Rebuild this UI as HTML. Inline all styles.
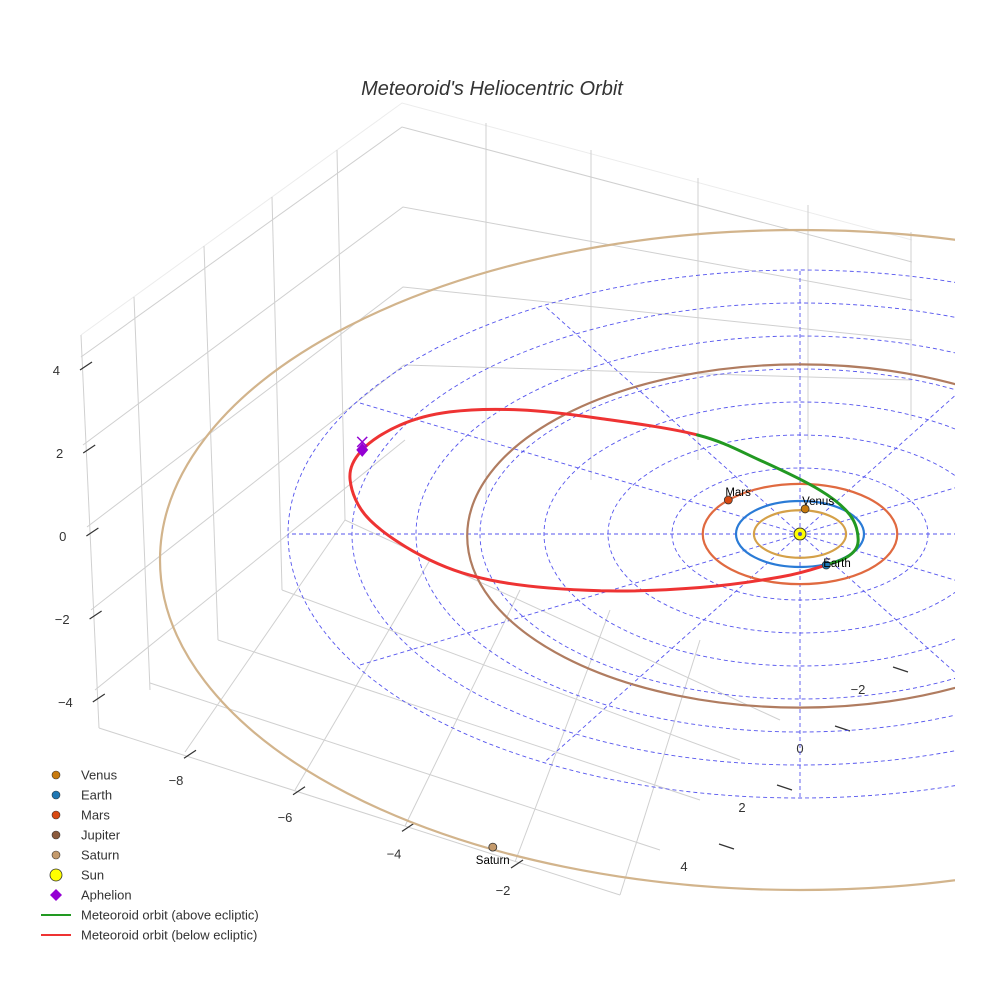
<!DOCTYPE html>
<html><head><meta charset="utf-8"><style>
body{margin:0;background:#fff;}
svg{display:block;font-family:"Liberation Sans",sans-serif;}
</style></head><body>
<svg id="chart" width="984" height="984" viewBox="0 0 984 984">
<rect width="984" height="984" fill="#fff"/>
<text x="492" y="95" text-anchor="middle" font-size="20" font-style="italic" fill="#333">Meteoroid's Heliocentric Orbit</text>
<g id="box" stroke="#d0d0d0" stroke-width="1" fill="none">
<path d="M81,335L402,103L912,240" stroke="#ececec"/>
<path d="M81,357L402,127L912,262"/>
<path d="M83,445L403,207L912,300"/>
<path d="M87,527L403,287L912,340"/>
<path d="M91,610L404,365L912,380"/>
<path d="M95,690L405,440"/>
<path d="M81,335L99,728M134,297L150,690M204,246L218,640M272,197L282,590M337,150L345,520"/>
<path d="M486,123L486,500M591,150L591,480M698,178L698,460M808,205L808,440M911,232L911,420"/>
<path d="M99,728L620,895M150,683L660,850M218,640L700,800M282,590L740,760M345,520L780,720"/>
<path d="M185,752L345,520M295,790L430,560M405,826L520,590M515,862L610,610M620,895L700,640"/>
</g>
<g id="ticks" stroke="#333" stroke-width="1.2"></g>
<g id="ticklabels" font-size="13" fill="#333"></g>
<defs><clipPath id="clip"><rect x="0" y="0" width="955" height="984"/></clipPath></defs>
<g id="plot" clip-path="url(#clip)"></g>
<g id="legend" font-size="13" fill="#333"></g>
</svg>
<script>
// ---- data ----
const ringRadii=[2,3,4,5,6,7,8];
const spokeAngles=[0,30,60,90,120,150,180,210,240,270,300,330];
const planetNames=['Venus','Earth','Mars','Jupiter','Saturn'];
const planetA=[0.72,1.0,1.52,5.2,10.0];
const planetColors=['#d4a048','#2a7bd6','#e06a40','#b07c60','#d2b48c'];
const planetDotColors=['#c87a0e','#1f77b4','#d84a12','#8b5a3c','#c49a6c'];
const planetU=[0.08,0.41,-1.12,null,-4.8];
const planetV=[-0.76,0.94,-1.03,null,8.7];
const orbitU=[0.41,-0.3,-1.56,-3.12,-4.69,-5.78,-6.72,-7.03,-6.84,-6.25,-5.47,-4.38,-3.12,-1.6,-0.63,0.31,0.78,0.91,0.78,0.41];
const orbitV=[0.94,1.3,1.62,1.72,1.45,0.79,-0.42,-1.64,-2.55,-3.3,-3.7,-3.76,-3.5,-3.0,-2.24,-1.33,-0.58,0.18,0.64,0.94];
const orbitAbove=[0,0,0,0,0,0,0,0,0,0,0,0,0,1,1,1,1,1,1,1];
const aphelionUV=[-6.84,-2.55];
const zTicks=[4,2,0,-2,-4];
const xTicks=[-8,-6,-4,-2];
const yTicks=[-2,0,2,4];
// ---- scales ----
const CX=800,CY=534,SU=64,SV=33;
const px=u=>CX+SU*u, py=v=>CY+SV*v;
const zY=z=>540-41.5*z;
const xTx=t=>503+54.5*(t+2), xTy=t=>890+18.3*(t+2);
const yTx=t=>800-29*t, yTy=t=>748+29.5*t;
const NS='http://www.w3.org/2000/svg';
function mk(tag,parent,attrs){const e=document.createElementNS(NS,tag);for(const k in attrs)e.setAttribute(k,attrs[k]);parent.appendChild(e);return e;}
const plot=document.getElementById('plot');
ringRadii.forEach(r=>{
 const e=mk('ellipse',plot,{cx:CX,cy:CY,rx:SU*r,ry:SV*r,fill:'none',stroke:'#5555ee','stroke-width':0.9,'stroke-dasharray':'4,3'});
 
 
});
spokeAngles.forEach(a=>{
 const R=8,rad=a*Math.PI/180;
 const e=mk('line',plot,{x1:CX,y1:CY,x2:px(R*Math.cos(rad)),y2:py(R*Math.sin(rad)),stroke:'#5555ee','stroke-width':0.9,'stroke-dasharray':'4,3'});
 
 
});
const offs=[0,0,0,2,26];
planetA.forEach((a,i)=>{
 const e=mk('ellipse',plot,{cx:CX,cy:CY+offs[i],rx:SU*a,ry:SV*a,fill:'none',stroke:planetColors[i],'stroke-width':2.2});
 
 
});
const N=orbitU.length-1;
const P=[];for(let i=0;i<N;i++)P.push([px(orbitU[i]),py(orbitV[i])]);
let dBelow='',dAbove='';
for(let i=0;i<N;i++){
 const p0=P[(i-1+N)%N],p1=P[i],p2=P[(i+1)%N],p3=P[(i+2)%N];
 const c='M'+p1[0].toFixed(1)+','+p1[1].toFixed(1)+'C'+(p1[0]+(p2[0]-p0[0])/6).toFixed(1)+','+(p1[1]+(p2[1]-p0[1])/6).toFixed(1)+' '+(p2[0]-(p3[0]-p1[0])/6).toFixed(1)+','+(p2[1]-(p3[1]-p1[1])/6).toFixed(1)+' '+p2[0].toFixed(1)+','+p2[1].toFixed(1);
 if(orbitAbove[i]===1)dAbove+=c;else dBelow+=c;
}
const r1=mk('path',plot,{d:dBelow,fill:'none',stroke:'#ee3333','stroke-width':3,'stroke-linecap':'round'});


const g1=mk('path',plot,{d:dAbove,fill:'none',stroke:'#229922','stroke-width':3,'stroke-linecap':'round'});


const sun=mk('circle',plot,{cx:CX,cy:CY,r:6,fill:'#ffff00',stroke:'#333','stroke-width':1});


mk('circle',plot,{cx:CX,cy:CY,r:2,fill:'#5555aa'});
planetNames.forEach((n,i)=>{
 if(planetU[i]===null)return;
 const x=px(planetU[i]),y=py(planetV[i])+offs[i];
 const c=mk('circle',plot,{cx:x,cy:y,r:4,fill:planetDotColors[i],stroke:'#333','stroke-width':0.8});
 
 
 const lx=i===4?x-17:x-3, ly=i===4?y+17:(i===1?y+2:y-4);
 const t=mk('text',plot,{x:lx,y:ly,'font-size':11.5,fill:'#000'});
 t.textContent=n;
 
 
});
const ax=px(aphelionUV[0]),ay=py(aphelionUV[1]);
const dia=mk('path',plot,{d:`M${ax},${ay-7}L${ax+6},${ay}L${ax},${ay+7}L${ax-6},${ay}Z`,fill:'#9400d3'});


mk('path',plot,{d:`M${ax-5},${ay-13}L${ax+5},${ay-3}M${ax+5},${ay-13}L${ax-5},${ay-3}`,stroke:'#9400d3','stroke-width':1.5});
const tk=document.getElementById('ticks'),tl=document.getElementById('ticklabels');
zTicks.forEach(t=>{const y=zY(t)-8,x=80+(4-t)*1.6;
 mk('line',tk,{x1:x,y1:y+4,x2:x+12,y2:y-4});
 const e=mk('text',tl,{x:x-20,y:y+9,'text-anchor':'end'});e.textContent=(t<0?'\u2212':'')+Math.abs(t);
 
 });
xTicks.forEach(t=>{const x=xTx(t),y=xTy(t);
 mk('line',tk,{x1:x+8,y1:y-22,x2:x+20,y2:y-30});
 const e=mk('text',tl,{x:x,y:y+5,'text-anchor':'middle'});e.textContent='\u2212'+Math.abs(t);
 
 });
yTicks.forEach(t=>{const x=yTx(t),y=yTy(t);
 mk('line',tk,{x1:x+35,y1:y-22,x2:x+50,y2:y-17});
 const e=mk('text',tl,{x:x,y:y+5,'text-anchor':'middle'});e.textContent=(t<0?'\u2212':'')+Math.abs(t);
 
 });
const lg=document.getElementById('legend');
const legNames=['Venus','Earth','Mars','Jupiter','Saturn','Sun','Aphelion','Meteoroid orbit (above ecliptic)','Meteoroid orbit (below ecliptic)'];
const legCols=['#c87a0e','#1f77b4','#d84a12','#8b5a3c','#c49a6c','#ffff00','#9400d3','#229922','#ee3333'];
legNames.forEach((n,i)=>{
 const y=775+20*i;
 const g=mk('g',lg,{});
 
 
 if(i<5) mk('circle',g,{cx:56,cy:y,r:4,fill:legCols[i],stroke:'#333','stroke-width':0.6});
 else if(i===5) mk('circle',g,{cx:56,cy:y,r:6,fill:legCols[i],stroke:'#333','stroke-width':0.8});
 else if(i===6) mk('path',g,{d:`M56,${y-6}L62,${y}L56,${y+6}L50,${y}Z`,fill:legCols[i]});
 else mk('line',g,{x1:41,y1:y,x2:71,y2:y,stroke:legCols[i],'stroke-width':2});
 const t=mk('text',g,{x:81,y:y+4.5});t.textContent=n;
});
</script>
</body></html>
